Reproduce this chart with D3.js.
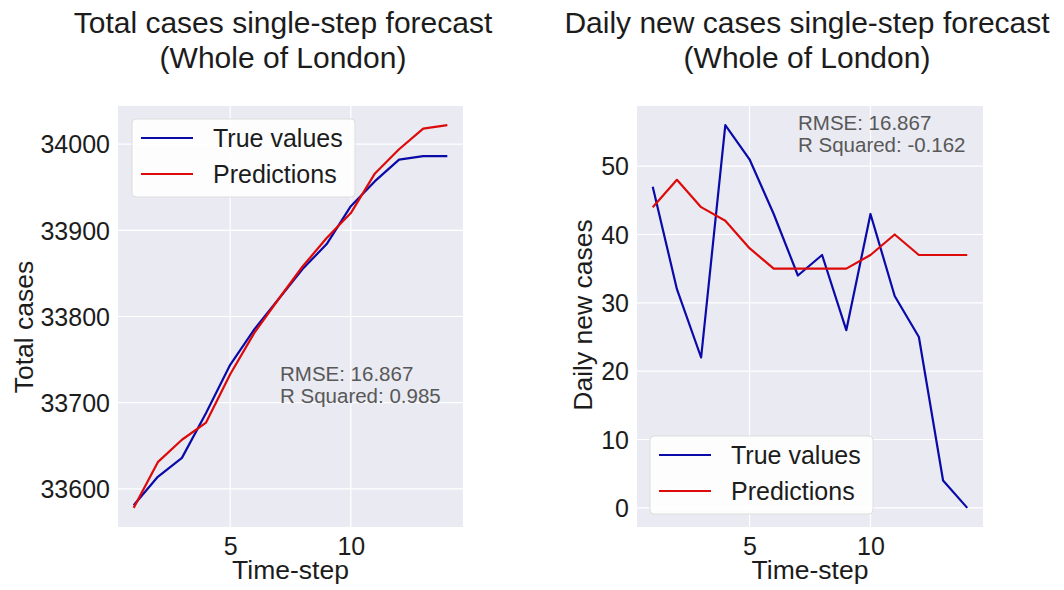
<!DOCTYPE html>
<html>
<head>
<meta charset="utf-8">
<script src="https://cdn.jsdelivr.net/npm/d3@7"></script>
<style>
  body { margin: 0; background: #fff; }
  svg text { font-family: "Liberation Sans", Arial, sans-serif; fill: #1c1c1c; }
</style>
</head>
<body>
<div id="chart"></div>
<script>
// data
const timeSteps = [1, 2, 3, 4, 5, 6, 7, 8, 9, 10, 11, 12, 13, 14];
const totalTrue = [33581, 33614, 33636, 33688, 33744, 33785, 33820, 33855, 33884, 33928, 33957, 33982, 33986, 33986];
const totalPred = [33578, 33631, 33657, 33677, 33733, 33781, 33820, 33858, 33891, 33920, 33966, 33994, 34018, 34022];
const dailyTrue = [47, 32, 22, 56, 51, 43, 34, 37, 26, 43, 31, 25, 4, 0];
const dailyPred = [44, 48, 44, 42, 38, 35, 35, 35, 35, 37, 40, 37, 37, 37];
const xTicks = [5, 10];
const totalTicks = [33600, 33700, 33800, 33900, 34000];
const dailyTicks = [0, 10, 20, 30, 40, 50];
const seriesNames = ['True values', 'Predictions'];
const seriesColors = ['#0a0aa8', '#dd0a0a'];

const svg = d3.select('#chart').append('svg')
  .attr('width', 1064)
  .attr('height', 590);

// pad domain by 5% like matplotlib does
function padded(vals) {
  const [lo, hi] = d3.extent(vals);
  const m = (hi - lo) * 0.05;
  return [lo - m, hi + m];
}

function drawPanel(opt) {
  const g = svg.append('g');
  const x = d3.scaleLinear().domain(padded(timeSteps)).range([opt.left, opt.right]);
  const y = d3.scaleLinear().domain(padded(opt.trueVals.concat(opt.predVals))).range([opt.bottom, opt.top]);

  g.append('rect')
    .attr('x', opt.left).attr('y', opt.top)
    .attr('width', opt.right - opt.left).attr('height', opt.bottom - opt.top)
    .attr('fill', '#eaeaf2');

  // grid
  g.selectAll('.vgrid').data(xTicks).enter().append('line')
    .attr('x1', d => x(d)).attr('x2', d => x(d))
    .attr('y1', opt.top).attr('y2', opt.bottom)
    .attr('stroke', '#fff').attr('stroke-width', 1.2);
  g.selectAll('.hgrid').data(opt.yTicks).enter().append('line')
    .attr('x1', opt.left).attr('x2', opt.right)
    .attr('y1', d => y(d)).attr('y2', d => y(d))
    .attr('stroke', '#fff').attr('stroke-width', 1.2);

  // axes via d3 axis, then strip domain and ticks
  const xAxis = g.append('g')
    .attr('transform', `translate(0,${opt.bottom})`)
    .call(d3.axisBottom(x).tickValues(xTicks).tickSize(0).tickPadding(10));
  const yAxis = g.append('g')
    .attr('transform', `translate(${opt.left},0)`)
    .call(d3.axisLeft(y).tickValues(opt.yTicks).tickSize(0).tickPadding(8).tickFormat(d3.format('d')));
  [xAxis, yAxis].forEach(a => {
    a.select('.domain').remove();
    a.selectAll('text').style('font-size', '25px').attr('fill', '#1c1c1c');
  });
  yAxis.selectAll('text').attr('dy', '0.35em');

  // lines
  const line = d3.line().x((d, i) => x(timeSteps[i])).y(d => y(d));
  [opt.trueVals, opt.predVals].forEach((vals, i) => {
    g.append('path')
      .datum(vals)
      .attr('d', line)
      .attr('fill', 'none')
      .attr('stroke', seriesColors[i])
      .attr('stroke-width', 2.2)
      .attr('stroke-linejoin', 'round');
  });

  // titles
  const cx = (opt.left + opt.right) / 2;
  opt.title.forEach((t, i) => {
    g.append('text')
      .attr('x', opt.titleX).attr('y', 33 + i * 35)
      .attr('text-anchor', 'middle')
      .style('font-size', '30px')
      .text(t);
  });
  g.append('text')
    .attr('x', cx).attr('y', 579)
    .attr('text-anchor', 'middle')
    .style('font-size', '26.5px')
    .text('Time-step');
  g.append('text')
    .attr('transform', `translate(${opt.yLabelX},${opt.yLabelY}) rotate(-90)`)
    .attr('text-anchor', 'middle')
    .style('font-size', '26.5px')
    .text(opt.yLabel);

  // metrics
  opt.metrics.forEach((t, i) => {
    g.append('text')
      .attr('x', opt.metricX).attr('y', opt.metricY + i * 22)
      .style('font-size', '20.5px')
      .style('fill', '#585858')
      .text(t);
  });

  // legend
  const lg = g.append('g').attr('transform', `translate(${opt.legX},${opt.legY})`);
  lg.append('rect')
    .attr('width', 223).attr('height', 78)
    .attr('rx', 4)
    .attr('fill', '#fff').attr('fill-opacity', 0.9)
    .attr('stroke', '#ddd');
  seriesNames.forEach((name, i) => {
    const ly = 19 + i * 36;
    lg.append('line')
      .attr('x1', 9).attr('x2', 61)
      .attr('y1', ly).attr('y2', ly)
      .attr('stroke', seriesColors[i]).attr('stroke-width', 2.2);
    lg.append('text')
      .attr('x', 81).attr('y', ly + 9)
      .style('font-size', '25px')
      .text(name);
  });
}

drawPanel({
  left: 118, right: 463, top: 106, bottom: 527,
  trueVals: totalTrue, predVals: totalPred, yTicks: totalTicks,
  title: ['Total cases single-step forecast', '(Whole of London)'], titleX: 283,
  yLabel: 'Total cases', yLabelX: 33, yLabelY: 327,
  metrics: ['RMSE: 16.867', 'R Squared: 0.985'], metricX: 280, metricY: 381,
  legX: 132, legY: 119
});

drawPanel({
  left: 637, right: 983, top: 106, bottom: 527,
  trueVals: dailyTrue, predVals: dailyPred, yTicks: dailyTicks,
  title: ['Daily new cases single-step forecast', '(Whole of London)'], titleX: 807,
  yLabel: 'Daily new cases', yLabelX: 592, yLabelY: 315,
  metrics: ['RMSE: 16.867', 'R Squared: -0.162'], metricX: 798, metricY: 130,
  legX: 650, legY: 436
});
</script>
</body>
</html>
